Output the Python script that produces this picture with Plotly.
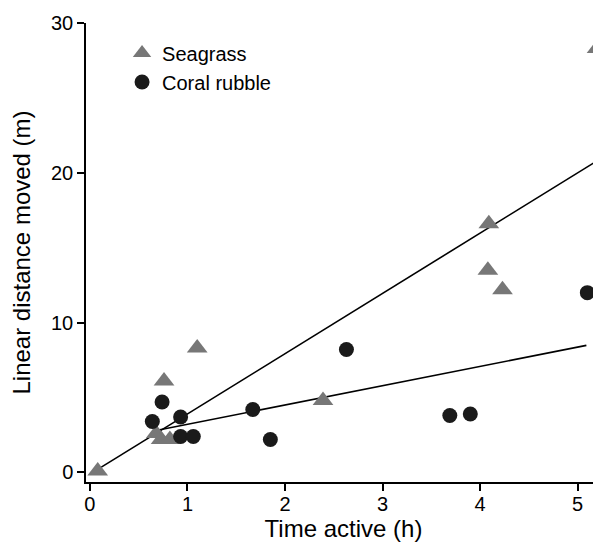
import plotly.graph_objects as go

# Seagrass (grey triangles)
seagrass_time = [0.08, 0.68, 0.73, 0.82, 0.76, 1.10, 2.39, 4.08, 4.09, 4.23, 5.20]
seagrass_dist = [0.1, 2.6, 2.2, 2.2, 6.1, 8.3, 4.8, 13.5, 16.6, 12.2, 28.3]

# Coral rubble (black circles)
rubble_time = [0.64, 0.74, 0.93, 0.93, 1.06, 1.67, 1.85, 2.63, 3.69, 3.90, 5.10]
rubble_dist = [3.4, 4.7, 3.7, 2.4, 2.4, 4.2, 2.2, 8.2, 3.8, 3.9, 12.0]

# fitted lines, end points
seagrass_fit_time = [0.08, 5.20]
seagrass_fit_dist = [0.2, 20.8]
rubble_fit_time = [0.64, 5.09]
rubble_fit_dist = [2.75, 8.48]

x_ticks = [0, 1, 2, 3, 4, 5]
y_ticks = [0, 10, 20, 30]

FONT = "Liberation Sans, Arial, Helvetica, sans-serif"

fig = go.Figure()

fig.add_trace(go.Scatter(
    x=seagrass_fit_time, y=seagrass_fit_dist, mode='lines',
    line=dict(color='black', width=1.6), showlegend=False, hoverinfo='skip'
))
fig.add_trace(go.Scatter(
    x=rubble_fit_time, y=rubble_fit_dist, mode='lines',
    line=dict(color='black', width=1.6), showlegend=False, hoverinfo='skip'
))
fig.add_trace(go.Scatter(
    x=seagrass_time, y=seagrass_dist, mode='markers', name='Seagrass',
    marker=dict(symbol='triangle-up', size=18, color='#777777', line=dict(width=0))
))
fig.add_trace(go.Scatter(
    x=rubble_time, y=rubble_dist, mode='markers', name='Coral rubble',
    marker=dict(symbol='circle', size=15, color='#1a1a1a', line=dict(width=0))
))

# the page body adds an 8px margin, so the figure is 8px smaller than the window
fig.update_layout(
    width=593,
    height=535,
    margin=dict(l=78, r=0, t=15, b=61),
    plot_bgcolor='white',
    paper_bgcolor='white',
    font=dict(family=FONT, size=20, color='black'),
    legend=dict(
        x=0.07, y=0.977, xanchor='left', yanchor='top',
        bgcolor='rgba(0,0,0,0)', font=dict(size=20),
        itemwidth=30, tracegroupgap=0
    ),
    xaxis=dict(
        range=[-0.04, 5.24],
        tickvals=x_ticks,
        ticks='outside', ticklen=7, tickwidth=1.5, tickcolor='black',
        ticklabelstandoff=-4,
        showline=True, linecolor='black', linewidth=2,
        showgrid=False, zeroline=False,
        title=dict(text='Time active (h)', font=dict(size=24), standoff=2),
        automargin=False,
    ),
    yaxis=dict(
        range=[-0.64, 30],
        tickvals=y_ticks,
        ticks='outside', ticklen=7, tickwidth=1.5, tickcolor='black',
        showline=True, linecolor='black', linewidth=1.5,
        showgrid=False, zeroline=False,
        title=dict(text='Linear distance moved (m)', font=dict(size=24), standoff=14),
        automargin=False,
    ),
)

fig.write_html("out.html")
